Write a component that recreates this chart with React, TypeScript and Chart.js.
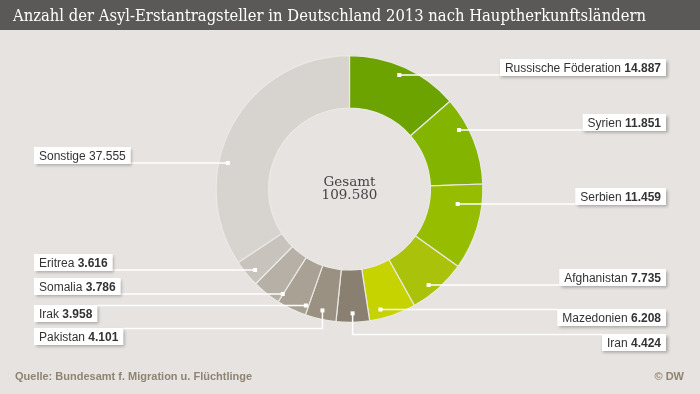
import React, { useEffect, useRef } from 'react';
import { Chart, ArcElement, DoughnutController } from 'chart.js';

Chart.register(ArcElement, DoughnutController);

// ---- data ----
const TITLE = 'Anzahl der Asyl-Erstantragsteller in Deutschland 2013 nach Hauptherkunftsländern';
const SOURCE = 'Quelle: Bundesamt f. Migration u. Flüchtlinge';
const CREDIT = '© DW';
const CENTER_LABEL = 'Gesamt';
const TOTAL = 109580;

const CATEGORIES = [
  'Russische Föderation',
  'Syrien',
  'Serbien',
  'Afghanistan',
  'Mazedonien',
  'Iran',
  'Pakistan',
  'Irak',
  'Somalia',
  'Eritrea',
  'Sonstige',
];
const VALUES = [14887, 11851, 11459, 7735, 6208, 4424, 4101, 3958, 3786, 3616, 37555];
const VALUE_BOLD = [true, true, true, true, true, true, true, true, true, true, false];

// ---- styles / label layout ----
const COLORS = [
  '#6ca300',
  '#82b400',
  '#97bd00',
  '#abc20b',
  '#c7d300',
  '#8a8072',
  '#9a9182',
  '#a9a194',
  '#b7b0a6',
  '#c8c3bc',
  '#d7d4cf',
];
const LABEL_SIDE = ['right', 'right', 'right', 'right', 'right', 'right', 'left', 'left', 'left', 'left', 'left'];
const LABEL_BOX_TOP = [59, 114, 188, 269, 309, 334, 328, 305, 278, 254, 147];
const LABEL_LINE_AT = ['bottom', 'bottom', 'bottom', 'bottom', 'top', 'top', 'top', 'top', 'bottom', 'bottom', 'bottom'];
const LABEL_ELBOW = [false, false, false, false, false, true, true, false, false, false, false];

const BG = '#e6e3e0';
const BAR = '#5a5957';

const fmt = (v: number) => v.toLocaleString('de-DE');

const decorPlugin = {
  id: 'decor',
  beforeDraw(chart: any) {
    const { ctx, width, height } = chart;
    ctx.save();
    ctx.fillStyle = BG;
    ctx.fillRect(0, 0, width, height);
    ctx.fillStyle = BAR;
    ctx.fillRect(0, 0, width, 30);
    // title (horizontally fitted to the reference width)
    ctx.font = '16.5px "DejaVu Serif"';
    const w = ctx.measureText(TITLE).width;
    const sx = Math.min(1, 633 / w);
    ctx.save();
    ctx.translate(13, 21);
    ctx.scale(sx, 1);
    ctx.fillStyle = '#ffffff';
    ctx.textBaseline = 'alphabetic';
    ctx.textAlign = 'left';
    ctx.fillText(TITLE, 0, 0);
    ctx.restore();
    // footer
    ctx.font = 'bold 11px "Liberation Sans", Arial, sans-serif';
    ctx.fillStyle = '#8e8473';
    ctx.textAlign = 'left';
    ctx.fillText(SOURCE, 15, 380);
    ctx.textAlign = 'right';
    ctx.fillText(CREDIT, 684, 380);
    ctx.restore();
  },
  afterDraw(chart: any) {
    const { ctx, width } = chart;
    const meta = chart.getDatasetMeta(0);
    ctx.save();
    // center text
    const a0 = meta.data[0];
    const cx = a0.x;
    const cy = a0.y;
    ctx.fillStyle = '#454545';
    ctx.textAlign = 'center';
    ctx.textBaseline = 'alphabetic';
    ctx.font = '13.5px "DejaVu Serif"';
    ctx.fillText(CENTER_LABEL, cx, cy - 3);
    ctx.fillText(fmt(TOTAL), cx, cy + 10);

    const nameFont = '12px "Liberation Sans", Arial, sans-serif';
    const valFont = 'bold 12px "Liberation Sans", Arial, sans-serif';
    const boxH = 17;
    const pad = 5;

    const boxes: any[] = [];
    meta.data.forEach((arc: any, i: number) => {
      const { startAngle, endAngle, outerRadius, innerRadius } = arc.getProps(
        ['startAngle', 'endAngle', 'outerRadius', 'innerRadius'],
        true
      );
      const side = LABEL_SIDE[i];
      const top = LABEL_BOX_TOP[i];
      const lineY = LABEL_LINE_AT[i] === 'top' ? top + 0.5 : top + boxH - 1;
      let dotX: number, dotY: number;
      if (LABEL_ELBOW[i]) {
        const r = outerRadius - 9;
        const mid = (startAngle + endAngle) / 2;
        dotX = cx + Math.cos(mid) * r;
        dotY = cy + Math.sin(mid) * r;
      } else {
        const dy = lineY - cy;
        // right-side lines near centre height sit closer to the ring middle
        const r =
          side === 'right' && Math.abs(dy) < 40 ? (outerRadius + innerRadius) / 2 + 2 : outerRadius - 9;
        const dx = Math.sqrt(Math.max(r * r - dy * dy, 0));
        dotX = side === 'right' ? cx + dx : cx - dx;
        dotY = lineY;
      }
      ctx.font = nameFont;
      const nameText = CATEGORIES[i] + ' ';
      const nw = ctx.measureText(nameText).width;
      ctx.font = VALUE_BOLD[i] ? valFont : nameFont;
      const vt = fmt(VALUES[i]);
      const vw = ctx.measureText(vt).width;
      const bw = nw + vw + pad * 2;
      const bx = side === 'right' ? width - 34 - bw : 34;
      boxes.push({ i, bx, top, bw, nameText, nw, vt, dotX, dotY, lineY, side });
    });

    // leader lines
    ctx.strokeStyle = '#ffffff';
    ctx.lineWidth = 1.5;
    boxes.forEach((b) => {
      const endX = b.side === 'right' ? b.bx : b.bx + b.bw;
      ctx.beginPath();
      ctx.moveTo(b.dotX, b.dotY);
      if (LABEL_ELBOW[b.i]) {
        ctx.lineTo(b.dotX, b.lineY);
      }
      ctx.lineTo(endX, b.lineY);
      ctx.stroke();
      ctx.fillStyle = '#ffffff';
      ctx.fillRect(b.dotX - 2, b.dotY - 2, 4, 4);
    });

    // boxes
    boxes.forEach((b) => {
      ctx.save();
      ctx.shadowColor = 'rgba(0,0,0,0.28)';
      ctx.shadowBlur = 3;
      ctx.shadowOffsetX = 1.5;
      ctx.shadowOffsetY = 1.5;
      ctx.fillStyle = '#ffffff';
      ctx.fillRect(b.bx, b.top, b.bw, boxH);
      ctx.restore();
      ctx.fillStyle = '#333333';
      ctx.textAlign = 'left';
      ctx.textBaseline = 'alphabetic';
      ctx.font = nameFont;
      ctx.fillText(b.nameText, b.bx + pad, b.top + 13);
      ctx.font = VALUE_BOLD[b.i] ? valFont : nameFont;
      ctx.fillText(b.vt, b.bx + pad + b.nw, b.top + 13);
    });
    ctx.restore();
  },
};

export default function App() {
  const ref = useRef<HTMLCanvasElement>(null);
  useEffect(() => {
    document.body.style.margin = '0';
    const chart = new Chart(ref.current as HTMLCanvasElement, {
      type: 'doughnut',
      data: {
        labels: CATEGORIES,
        datasets: [
          {
            data: VALUES,
            backgroundColor: COLORS,
            borderColor: '#ebe9e5',
            borderWidth: 1.2,
          },
        ],
      },
      options: {
        responsive: false,
        animation: false,
        cutout: '60.7%',
        layout: { padding: { top: 55, bottom: 71, left: 0, right: 1 } },
        plugins: { legend: { display: false }, tooltip: { enabled: false } },
        events: [],
      },
      plugins: [decorPlugin],
    });
    return () => chart.destroy();
  }, []);
  return (
    <div style={{ width: 700, height: 394 }}>
      <canvas ref={ref} width={700} height={394} style={{ display: 'block' }} />
    </div>
  );
}
